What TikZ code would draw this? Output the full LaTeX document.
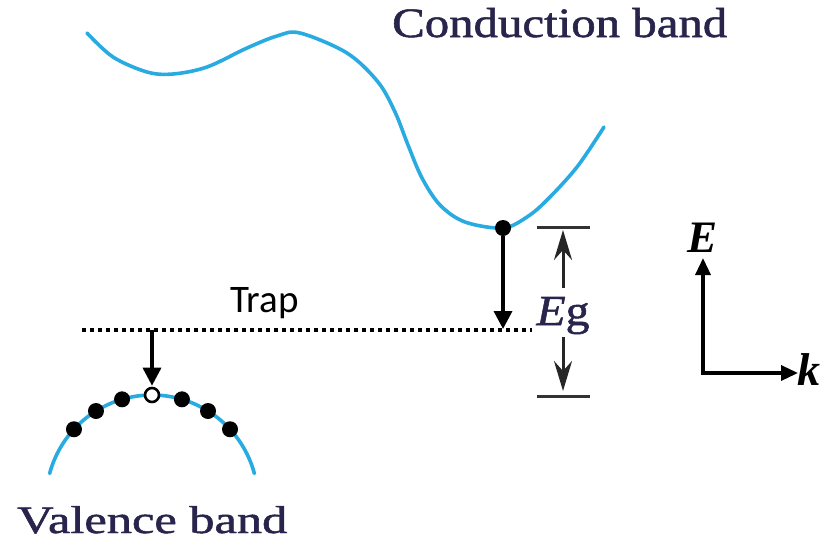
\documentclass[tikz,border=0pt]{standalone}
\usepackage{fontspec}
\setmainfont{Liberation Serif}
\newfontfamily\bandfont[FakeBold=1.2]{Liberation Serif}
\newfontfamily\calib{Carlito}
\usetikzlibrary{arrows.meta}
\definecolor{bandblue}{RGB}{41,171,226}
\definecolor{navytext}{RGB}{40,36,75}
\begin{document}
\begin{tikzpicture}[x=1pt,y=-1pt,
 band/.style={bandblue, line width=3.6pt},
 electron/.style={circle, fill=black, inner sep=0pt, minimum size=16pt},
 holedot/.style={circle, draw=black, fill=white, line width=2.6pt, inner sep=0pt, minimum size=14pt},
 bigarrow/.style={line width=3.4pt, -{Triangle[width=18pt,length=18pt]}},
 egarrow/.style={line width=3pt, draw=black!85, -{Stealth[width=18pt,length=30pt,inset=10pt]}},
 egbar/.style={line width=3pt, draw=black!80},
 trapline/.style={line width=4pt, dash pattern=on 4pt off 4pt},
 axarrow/.style={line width=3.4pt, {Triangle[width=15pt,length=17pt]}-{Triangle[width=15pt,length=17pt]}},
]
\useasboundingbox (0,0) rectangle (829,544);

% conduction band
\draw[band, line cap=round] plot[smooth, tension=0.55] coordinates {(87,33) (113,57) (147,72) (173,74) (207,67) (247,48) (277,36) (300,33) (347,53) (378,82) (395,112) (408,145) (422,178) (440,205) (465,222) (503,228) (527,217) (547,200) (577,167) (604,127)};
\node[anchor=base west, inner sep=0pt, text=navytext] (cb) at (392,37) {\resizebox{335pt}{29pt}{\bandfont Conduction band}};
\node[electron] (ce) at (503,228) {};

% trap level
\coordinate (trapL) at (82,330);
\coordinate (trapR) at (532,330);
\draw[trapline] (trapL) -- (trapR);
\node[anchor=base west, inner sep=0pt] (trap) at (230,312) {\calib\fontsize{39}{39}\selectfont Trap};
\coordinate (ctrap) at (503,329);
\draw[bigarrow] (ce) -- (ctrap);

% valence band
\draw[band, line cap=round] plot[domain=165:15, samples=80] ({152+106*cos(\x)},{501-106*sin(\x)});
\foreach \a/\n in {137.4/v1, 121.9/v2, 106.4/v3, 73.6/v4, 58.1/v5, 42.6/v6}
  \node[electron] (\n) at ({152+106*cos(\a)},{501-106*sin(\a)}) {};
\node[holedot] (hole) at (152,395) {};
\coordinate (vtrap) at (152,330);
\draw[bigarrow, shorten >=1pt] (vtrap) -- (hole);
\node[anchor=base west, inner sep=0pt, text=navytext] (vb) at (17,533) {\resizebox{270pt}{27pt}{\bandfont Valence band}};

% band gap
\coordinate (egTL) at (537,227);
\coordinate (egTR) at (590,227);
\coordinate (egBL) at (537,396);
\coordinate (egBR) at (590,396);
\draw[egbar] (egTL) -- (egTR);
\draw[egbar] (egBL) -- (egBR);
\node[anchor=base, inner sep=0pt, text=navytext] (eg) at (563,325) {\resizebox{53pt}{28pt}{\bandfont\itshape E\upshape g}};
\coordinate (egUp0) at (563,288);
\coordinate (egUp1) at (563,230);
\coordinate (egDn0) at (563,337);
\coordinate (egDn1) at (563,391);
\draw[egarrow] (egUp0) -- (egUp1);
\draw[egarrow] (egDn0) -- (egDn1);

% axes
\coordinate (origin) at (703,373);
\coordinate (ytip) at (703,258);
\coordinate (xtip) at (798,373);
\draw[axarrow] (ytip) -- (origin) -- (xtip);
\node[anchor=base, inner sep=0pt] (Elab) at (702,252) {\fontsize{45}{45}\selectfont\bfseries\itshape E};
\node[anchor=base west, inner sep=0pt] (klab) at (797,385) {\fontsize{46}{46}\selectfont\bfseries\itshape k};
\end{tikzpicture}
\end{document}
